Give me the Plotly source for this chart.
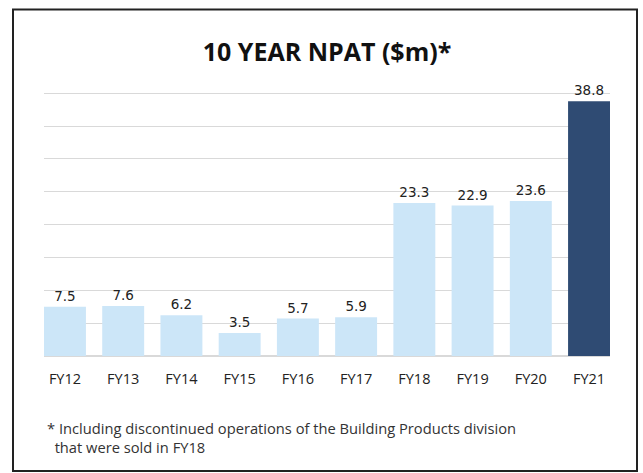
import plotly.graph_objects as go

years = ["FY12", "FY13", "FY14", "FY15", "FY16", "FY17", "FY18", "FY19", "FY20", "FY21"]
npat = [7.5, 7.6, 6.2, 3.5, 5.7, 5.9, 23.3, 22.9, 23.6, 38.8]
colors = ["#cce6f8"] * 9 + ["#2f4b73"]
labels = [f"{v:.1f}" for v in npat]
title_text = "10 YEAR NPAT ($m)*"
footnote = "* Including discontinued operations of the Building Products division<br>  that were sold in FY18"

W, H = 643, 473
L, R, T, B = 44, 610, 92, 356
pw, ph = R - L, B - T

def px(x):
    return (x - L) / pw

def py(y):
    return (B - y) / ph

fig = go.Figure(go.Bar(
    x=years, y=npat, marker=dict(color=colors, line=dict(width=0)),
    text=labels, textposition="outside", cliponaxis=False,
    textfont=dict(family="DejaVu Sans", size=13.5, color="#222222"),
    width=0.72,
))

fig.update_layout(
    width=W, height=H,
    margin=dict(l=L, r=W - R, t=T, b=H - B, pad=0),
    paper_bgcolor="white", plot_bgcolor="white",
    showlegend=False,
    title=dict(text="<b>" + title_text + "</b>", x=327 / W, xanchor="center",
               y=1 - 52 / H, yanchor="middle", yref="container",
               font=dict(family="Open Sans", size=25, color="#111111")),
    xaxis=dict(range=[-0.36, 9.36], showgrid=False, showline=False, zeroline=False,
               ticks="outside", ticklen=10, tickcolor="rgba(0,0,0,0)",
               tickfont=dict(family="Open Sans", size=14.5, color="#222222")),
    yaxis=dict(range=[0, 40.2], dtick=5, showticklabels=False, showgrid=True,
               gridcolor="#d9d9d9", gridwidth=1, zeroline=True,
               zerolinecolor="#d9d9d9", zerolinewidth=1.5, fixedrange=True),
    shapes=[dict(type="rect", xref="paper", yref="paper",
                 x0=px(13), x1=px(637), y0=py(471), y1=py(9.5),
                 line=dict(color="#222222", width=2), fillcolor="rgba(0,0,0,0)",
                 layer="below")],
    annotations=[dict(text=footnote, xref="paper", yref="paper",
                      x=px(45), y=py(437), xanchor="left", yanchor="middle",
                      align="left", showarrow=False,
                      font=dict(family="Open Sans", size=14.7, color="#333333"))],
)

fig.write_html("out.html", config={"displayModeBar": False},
               post_script="document.body.style.margin='0';")
